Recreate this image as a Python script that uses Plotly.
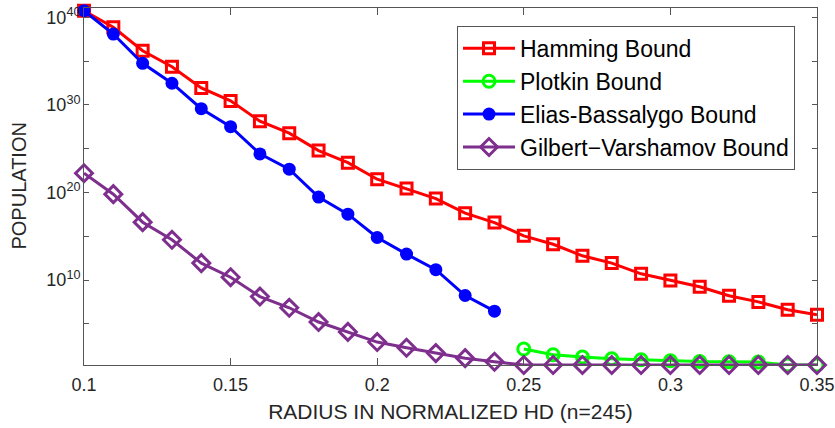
import plotly.graph_objects as go

radius = [0.10, 0.11, 0.12, 0.13, 0.14, 0.15, 0.16, 0.17, 0.18, 0.19, 0.20, 0.21,
          0.22, 0.23, 0.24, 0.25, 0.26, 0.27, 0.28, 0.29, 0.30, 0.31, 0.32, 0.33,
          0.34, 0.35]

hamming = [5.5e40, 7.1e38, 1.5e36, 2.2e34, 8.3e31, 2.8e30, 1.35e28, 5.8e26, 5.9e24,
           2.5e23, 3.2e21, 2.8e20, 2.0e19, 4.3e17, 3.6e16, 1.1e15, 1.2e14, 5.8e12,
           8.5e11, 5.1e10, 8.7e9, 1.7e9, 1.6e8, 3.2e7, 4.0e6, 1.07e6]

plotkin_r = [0.25, 0.26, 0.27, 0.28, 0.29, 0.30, 0.31, 0.32, 0.33, 0.34, 0.35]
plotkin = [132, 30, 16, 10, 8, 6, 5, 4.7, 4.3, 2, 2]

elias_r = [0.10, 0.11, 0.12, 0.13, 0.14, 0.15, 0.16, 0.17, 0.18, 0.19, 0.20, 0.21,
           0.22, 0.23, 0.24]
elias = [5.5e40, 1.2e38, 5.5e34, 2.9e32, 3.6e29, 3.2e27, 2.5e24, 4.5e22, 2.9e19,
         3.3e17, 7.1e14, 9.1e12, 1.5e11, 1.7e8, 2.8e6]

gv = [1.55e22, 6.3e19, 4.0e16, 3.9e14, 8.5e11, 2.1e10, 1.3e8, 6.8e6, 1.6e5, 1.2e4,
      830, 186, 46, 12, 4.7, 2, 2, 2, 2, 2, 2, 2, 2, 2, 2, 2]

x_ticks = [0.1, 0.15, 0.2, 0.25, 0.3, 0.35]
x_ticktext = ["0.1", "0.15", "0.2", "0.25", "0.3", "0.35"]
y_ticks = [1e10, 1e20, 1e30, 1e40]
y_ticktext = ["10<sup>10</sup>", "10<sup>20</sup>", "10<sup>30</sup>", "10<sup>40</sup>"]
y_minor_ticks = [1e5, 1e15, 1e25, 1e35]

fig = go.Figure()
fig.add_trace(go.Scatter(
    x=radius, y=hamming, name="Hamming Bound", mode="lines+markers",
    line=dict(color="#FF0000", width=3),
    marker=dict(symbol="square-open", size=11, line=dict(width=3, color="#FF0000")),
    cliponaxis=False))
fig.add_trace(go.Scatter(
    x=plotkin_r, y=plotkin, name="Plotkin Bound", mode="lines+markers",
    line=dict(color="#00FF00", width=3),
    marker=dict(symbol="circle-open", size=12, line=dict(width=3, color="#00FF00")),
    cliponaxis=False))
fig.add_trace(go.Scatter(
    x=elias_r, y=elias, name="Elias-Bassalygo Bound", mode="lines+markers",
    line=dict(color="#0000FF", width=3),
    marker=dict(symbol="circle", size=13, color="#0000FF"),
    cliponaxis=False))
fig.add_trace(go.Scatter(
    x=radius, y=gv, name="Gilbert\u2212Varshamov Bound", mode="lines+markers",
    line=dict(color="#7E2F8E", width=3),
    marker=dict(symbol="diamond-open", size=13, line=dict(width=3, color="#7E2F8E")),
    cliponaxis=False))

FONT = "Liberation Sans, Arial, sans-serif"
axis_font = dict(family=FONT, size=18, color="#262626")

fig.update_layout(
    width=835, height=428,
    margin=dict(l=84, r=18, t=8, b=63),
    paper_bgcolor="white", plot_bgcolor="white",
    font=dict(family=FONT, color="#262626"),
    showlegend=True,
    legend=dict(
        x=0.97, xanchor="right", y=0.95, yanchor="top",
        font=dict(family=FONT, size=23, color="#000000"),
        bordercolor="#555555", borderwidth=1, bgcolor="white",
        tracegroupgap=0, itemwidth=52),
    xaxis=dict(
        range=[0.1, 0.35], tickvals=x_ticks, ticktext=x_ticktext,
        ticks="inside", ticklen=7, tickcolor="#555555",
        showline=True, linecolor="#555555", linewidth=1, mirror="ticks",
        showgrid=False, zeroline=False, tickfont=axis_font, automargin=False,
        ticklabelstandoff=3,
        title=dict(text="RADIUS IN NORMALIZED HD (n=245)",
                   font=dict(family=FONT, size=21, color="#262626"),
                   standoff=10)),
    yaxis=dict(
        type="log", range=[0.3, 41.05], tickvals=y_ticks, ticktext=y_ticktext,
        ticks="inside", ticklen=5, tickcolor="#555555",
        minor=dict(tickvals=y_minor_ticks, ticks="inside", ticklen=5,
                   tickcolor="#555555", showgrid=False),
        showline=True, linecolor="#555555", linewidth=1, mirror="ticks",
        showgrid=False, zeroline=False, tickfont=axis_font, automargin=False,
        ticklabelstandoff=-1),
    annotations=[dict(
        text="POPULATION", textangle=-90, xref="paper", yref="paper",
        x=-0.09, y=0.5, xanchor="center", yanchor="middle", showarrow=False,
        font=dict(family=FONT, size=20, color="#262626"))],
)

fig.write_html("out.html", config={"displayModeBar": False},
               post_script="document.body.style.margin='0px';")
